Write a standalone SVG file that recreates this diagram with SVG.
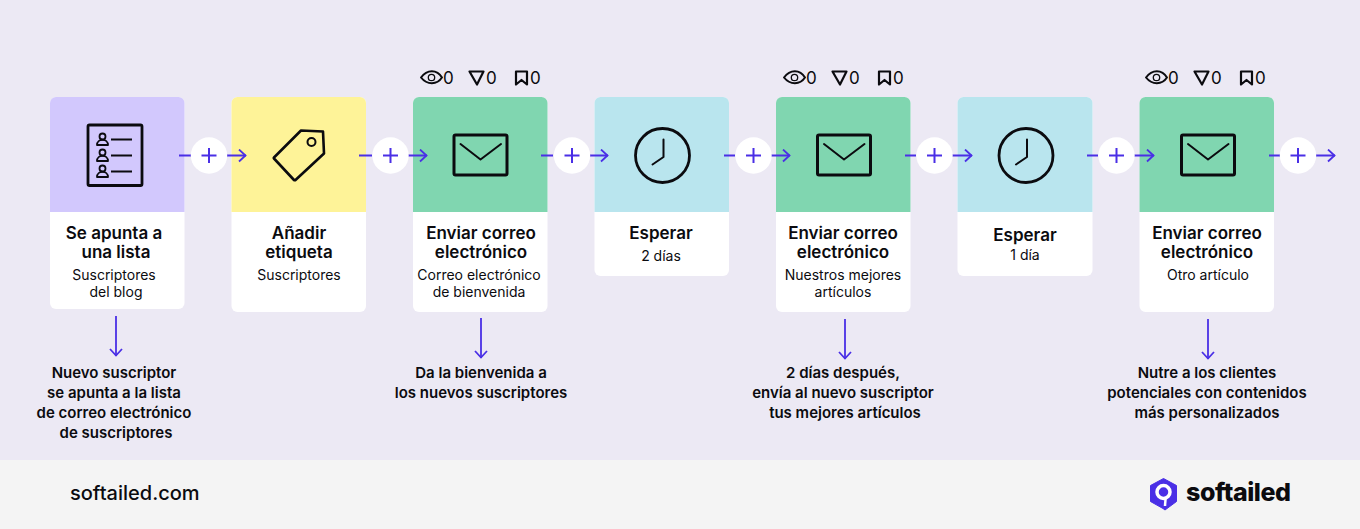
<svg xmlns="http://www.w3.org/2000/svg" width="1360" height="529" viewBox="0 0 1360 529">
<style>
text{font-family:Inter,"Noto Sans","Liberation Sans",sans-serif;text-anchor:middle;fill:#0b0b0f}
.t{font-size:17px;font-weight:600}
.s{font-size:14px;font-weight:400}
.n{font-size:15px;font-weight:600}
.c{font-size:17px;text-anchor:start;font-weight:400}
.ic{fill:none;stroke:#0b0b0f;stroke-width:2.6;stroke-linejoin:round;stroke-linecap:round}
.ln{fill:none;stroke:#4a2fe6;stroke-width:1.8}
.w{fill:#fff}
</style>
<defs>
<marker id="ah" markerWidth="12" markerHeight="14" refX="10" refY="7" orient="auto" markerUnits="userSpaceOnUse"><path d="M3 1 L9.500 7 L3 13" fill="none" stroke="#4a2fe6" stroke-width="1.8"/></marker>
<g id="mail"><rect x="-26.500" y="-20.500" width="53" height="40" rx="1.500" class="ic" style="stroke-width:3"/><path d="M-20 -11.500 L0 4 L20.500 -11.500" class="ic" style="stroke-width:2"/></g>
<g id="clock"><circle r="27" class="ic" style="stroke-width:2.800"/><path d="M1 -16 V1.500 L-10 9" class="ic" style="stroke-width:2"/></g>
<g id="plus"><circle r="18.200" class="w"/><path d="M0 -7.500 V7.500 M-7.500 0 H7.500" class="ln" style="stroke-width:2"/></g>
<g id="stats">
<path d="M-20 -0.500 C-14 -9 -4 -9 1 -0.500 C-4 7 -14 7 -20 -0.500 Z" class="ic" style="stroke-width:2"/><circle cx="-9.500" cy="-0.500" r="3.200" fill="none" stroke="#0b0b0f" stroke-width="1.300"/>
<text class="c" x="2" y="6">0</text>
<path d="M28.500 -6.500 H42.500 L36 6.500 Z" class="ic" style="stroke-width:2.200"/>
<text class="c" x="45" y="6">0</text>
<path d="M75 -6.500 H86 V6.500 L80.500 2 L75 6.500 Z" class="ic" style="stroke-width:2.200"/>
<text class="c" x="89" y="6">0</text>
</g>
<g id="person"><circle cy="-3.500" r="3" class="ic" style="stroke-width:1.800"/><path d="M-5.500 5 C-5.500 -2 5.500 -2 5.500 5 Z" class="ic" style="stroke-width:1.800"/></g>
</defs>
<rect width="1360" height="529" fill="#ece9f4"/>
<rect y="460" width="1360" height="69" fill="#f4f4f4"/>

<g id="node1">
<rect x="50" y="97" width="134.500" height="212" rx="6" class="w"/>
<path d="M50 212V103a6 6 0 0 1 6-6H178.500a6 6 0 0 1 6 6V212Z" fill="#d2c8fd"/>
<rect x="88" y="125" width="54" height="60.500" rx="1.500" class="ic" style="stroke-width:2.800"/>
<use href="#person" x="102.500" y="140"/><use href="#person" x="102.500" y="156"/><use href="#person" x="102.500" y="172"/>
<path d="M111 139.500H132M111 155.500H132M111 171.500H132" class="ic" style="stroke-width:1.800;stroke-linecap:butt"/>
<text class="t" x="114" y="239">Se apunta a</text><text class="t" x="116" y="258">una lista</text>
<text class="s" x="114" y="280">Suscriptores</text><text class="s" x="116" y="297">del blog</text>
</g>
<g id="node2">
<rect x="231.500" y="97" width="134.500" height="215" rx="6" class="w"/>
<path d="M231.500 212V103a6 6 0 0 1 6-6H360a6 6 0 0 1 6 6V212Z" fill="#fef398"/>
<path d="M301 130.500L323 131.500L324 153.500L295.500 180Q295 180.500 294 180L274 158.500Q273.500 158 274 157.500Z" class="ic"/><circle cx="311.500" cy="142" r="4" class="ic" style="stroke-width:2"/>
<text class="t" x="299" y="239">Añadir</text><text class="t" x="299" y="258">etiqueta</text>
<text class="s" x="299" y="280">Suscriptores</text>
</g>
<g id="node3">
<rect x="413" y="97" width="134.500" height="215" rx="6" class="w"/>
<path d="M413 212V103a6 6 0 0 1 6-6H541.500a6 6 0 0 1 6 6V212Z" fill="#80d6b0"/>
<use href="#mail" x="480.500" y="155.500"/>
<use href="#stats" x="441" y="78"/>
<text class="t" x="481" y="239">Enviar correo</text><text class="t" x="481" y="258">electrónico</text>
<text class="s" x="479" y="280">Correo electrónico</text><text class="s" x="479" y="297">de bienvenida</text>
</g>
<g id="node4">
<rect x="594.500" y="97" width="134.500" height="179" rx="6" class="w"/>
<path d="M594.500 212V103a6 6 0 0 1 6-6H723a6 6 0 0 1 6 6V212Z" fill="#b9e5ee"/>
<use href="#clock" x="662.500" y="155.500"/>
<text class="t" x="661" y="239">Esperar</text>
<text class="s" x="661" y="261">2 días</text>
</g>
<g id="node5">
<rect x="776" y="97" width="134.500" height="215" rx="6" class="w"/>
<path d="M776 212V103a6 6 0 0 1 6-6H904.500a6 6 0 0 1 6 6V212Z" fill="#80d6b0"/>
<use href="#mail" x="844" y="155.500"/>
<use href="#stats" x="804" y="78"/>
<text class="t" x="843" y="239">Enviar correo</text><text class="t" x="843" y="258">electrónico</text>
<text class="s" x="843" y="280">Nuestros mejores</text><text class="s" x="843" y="297">artículos</text>
</g>
<g id="node6">
<rect x="957.500" y="97" width="135" height="179" rx="6" class="w"/>
<path d="M957.500 212V103a6 6 0 0 1 6-6H1086.500a6 6 0 0 1 6 6V212Z" fill="#b9e5ee"/>
<use href="#clock" x="1026" y="155.500"/>
<text class="t" x="1025" y="240.500">Esperar</text>
<text class="s" x="1025" y="260">1 día</text>
</g>
<g id="node7">
<rect x="1139.500" y="97" width="134.500" height="215" rx="6" class="w"/>
<path d="M1139.500 212V103a6 6 0 0 1 6-6H1268a6 6 0 0 1 6 6V212Z" fill="#80d6b0"/>
<use href="#mail" x="1208" y="155.500"/>
<use href="#stats" x="1166" y="78"/>
<text class="t" x="1207" y="239">Enviar correo</text><text class="t" x="1207" y="258">electrónico</text>
<text class="s" x="1208" y="280">Otro artículo</text>
</g>

<g id="connectors">
<path d="M179 155.500H191M227 155.500H246" class="ln" marker-end="url(#ah)"/>
<path d="M359 155.500H372M408 155.500H427" class="ln" marker-end="url(#ah)"/>
<path d="M541 155.500H553M589 155.500H608" class="ln" marker-end="url(#ah)"/>
<path d="M724 155.500H735M771 155.500H790" class="ln" marker-end="url(#ah)"/>
<path d="M905 155.500H916M952 155.500H972" class="ln" marker-end="url(#ah)"/>
<path d="M1087 155.500H1098M1134 155.500H1154" class="ln" marker-end="url(#ah)"/>
<path d="M1269 155.500H1280M1316 155.500H1335" class="ln" marker-end="url(#ah)"/>
<path d="M116 316V356" class="ln" marker-end="url(#ah)"/>
<path d="M481 318V358" class="ln" marker-end="url(#ah)"/>
<path d="M845 319V359" class="ln" marker-end="url(#ah)"/>
<path d="M1208 319V359" class="ln" marker-end="url(#ah)"/>
<use href="#plus" x="209" y="155.500"/>
<use href="#plus" x="390.500" y="155.500"/>
<use href="#plus" x="572" y="155.500"/>
<use href="#plus" x="753.500" y="155.500"/>
<use href="#plus" x="934.500" y="155.500"/>
<use href="#plus" x="1116.500" y="155.500"/>
<use href="#plus" x="1298" y="155.500"/>
</g>

<g id="note1"><text class="n" x="114" y="378">Nuevo suscriptor</text><text class="n" x="114" y="398">se apunta a la lista</text><text class="n" x="114" y="418">de correo electrónico</text><text class="n" x="116" y="438">de suscriptores</text></g>
<g id="note2"><text class="n" x="481" y="378">Da la bienvenida a</text><text class="n" x="481" y="398">los nuevos suscriptores</text></g>
<g id="note3"><text class="n" x="843" y="378">2 días después,</text><text class="n" x="843" y="398">envía al nuevo suscriptor</text><text class="n" x="845" y="418">tus mejores artículos</text></g>
<g id="note4"><text class="n" x="1207" y="378">Nutre a los clientes</text><text class="n" x="1207" y="398">potenciales con contenidos</text><text class="n" x="1207" y="418">más personalizados</text></g>

<g id="footer">
<text x="70" y="500" style="font-size:20px;font-weight:500;text-anchor:start">softailed.com</text>
<path d="M1163.500 478.500L1176.500 485.500V501.500L1165 510L1163 508.500L1150.500 501.500V485.500Z" fill="#4a2fe6" stroke="#4a2fe6" stroke-linejoin="round" stroke-width="1"/>
<circle cx="1163.500" cy="492" r="6.500" fill="none" stroke="#fff" stroke-width="3.500"/>
<path d="M1165.500 499L1165 506" stroke="#fff" stroke-width="2.500" fill="none"/>
<text x="1186" y="500.500" style="font-size:25px;font-weight:800;text-anchor:start;letter-spacing:-0.450px">softailed</text>
</g>
</svg>
